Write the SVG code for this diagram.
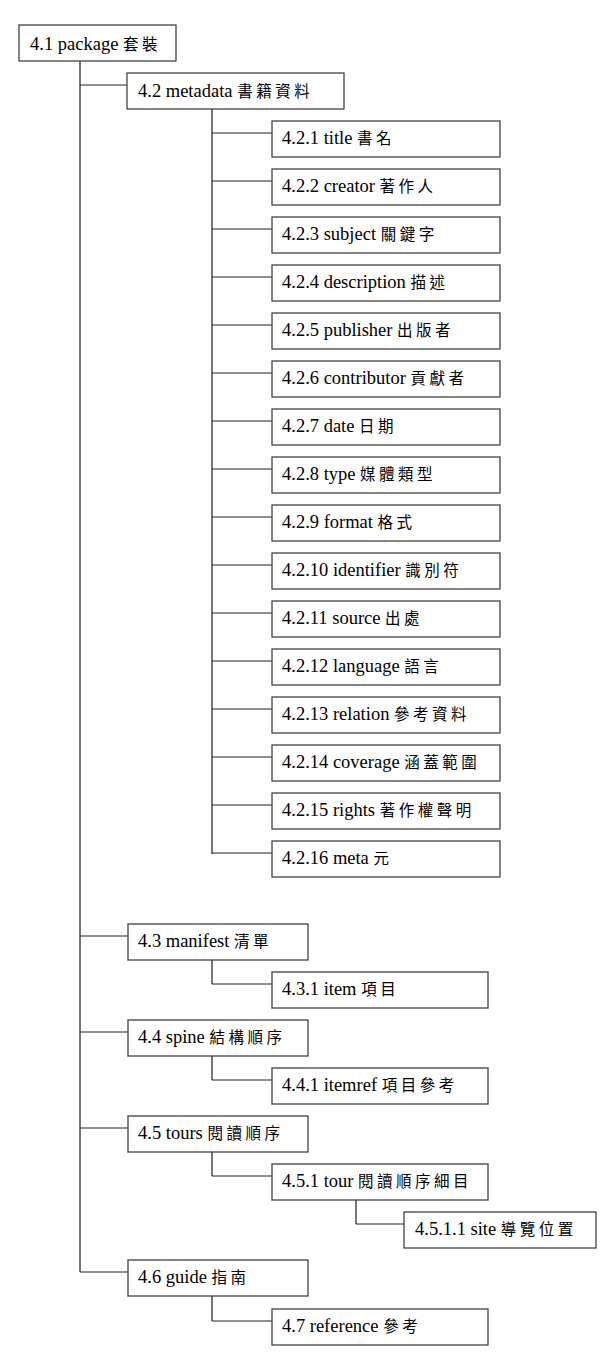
<svg xmlns="http://www.w3.org/2000/svg" width="604" height="1357" viewBox="0 0 604 1357">
<style>
.box{fill:#fff;stroke:#444;stroke-width:1.3}
text{font-family:"Liberation Serif","Times New Roman","Noto Sans CJK TC",serif;font-size:18.5px;fill:#000}
.c{font-family:"Noto Sans CJK TC","Noto Sans CJK SC",sans-serif;font-size:15.5px;letter-spacing:3.5px}
.v{stroke:#777;stroke-width:2;fill:none}
.h{stroke:#222;stroke-width:1;fill:none}
</style>
<rect width="604" height="1357" fill="#fff"/>
<g id="connectors">
<line class="v" x1="80" y1="61" x2="80" y2="1272"/>
<line class="h" x1="80" y1="85" x2="127" y2="85"/>
<line class="h" x1="80" y1="936" x2="128" y2="936"/>
<line class="h" x1="80" y1="1032" x2="128" y2="1032"/>
<line class="h" x1="80" y1="1128" x2="128" y2="1128"/>
<line class="h" x1="80" y1="1272" x2="128" y2="1272"/>
<line class="v" x1="212" y1="109" x2="212" y2="854"/>
<line class="h" x1="212" y1="133" x2="272" y2="133"/>
<line class="h" x1="212" y1="181" x2="272" y2="181"/>
<line class="h" x1="212" y1="229" x2="272" y2="229"/>
<line class="h" x1="212" y1="277" x2="272" y2="277"/>
<line class="h" x1="212" y1="325" x2="272" y2="325"/>
<line class="h" x1="212" y1="373" x2="272" y2="373"/>
<line class="h" x1="212" y1="421" x2="272" y2="421"/>
<line class="h" x1="212" y1="469" x2="272" y2="469"/>
<line class="h" x1="212" y1="517" x2="272" y2="517"/>
<line class="h" x1="212" y1="565" x2="272" y2="565"/>
<line class="h" x1="212" y1="613" x2="272" y2="613"/>
<line class="h" x1="212" y1="661" x2="272" y2="661"/>
<line class="h" x1="212" y1="709" x2="272" y2="709"/>
<line class="h" x1="212" y1="757" x2="272" y2="757"/>
<line class="h" x1="212" y1="805" x2="272" y2="805"/>
<line class="h" x1="212" y1="853" x2="272" y2="853"/>
<line class="v" x1="212" y1="960" x2="212" y2="984"/>
<line class="h" x1="212" y1="984" x2="272" y2="984"/>
<line class="v" x1="212" y1="1056" x2="212" y2="1080"/>
<line class="h" x1="212" y1="1080" x2="272" y2="1080"/>
<line class="v" x1="212" y1="1152" x2="212" y2="1176"/>
<line class="h" x1="212" y1="1176" x2="272" y2="1176"/>
<line class="v" x1="356" y1="1200" x2="356" y2="1224"/>
<line class="h" x1="356" y1="1224" x2="404" y2="1224"/>
<line class="v" x1="212" y1="1296" x2="212" y2="1321"/>
<line class="h" x1="212" y1="1321" x2="272" y2="1321"/>
</g>
<g id="n4_1"><rect class="box" x="19" y="25" width="157" height="36"/><text x="30" y="50">4.1 package <tspan class="c">套裝</tspan></text></g>
<g id="n4_2"><rect class="box" x="127" y="73" width="217" height="36"/><text x="138" y="97">4.2 metadata <tspan class="c">書籍資料</tspan></text></g>
<g id="n4_2_1"><rect class="box" x="272" y="121" width="228" height="36"/><text x="282" y="144">4.2.1 title <tspan class="c">書名</tspan></text></g>
<g id="n4_2_2"><rect class="box" x="272" y="169" width="228" height="36"/><text x="282" y="192">4.2.2 creator <tspan class="c">著作人</tspan></text></g>
<g id="n4_2_3"><rect class="box" x="272" y="217" width="228" height="36"/><text x="282" y="240">4.2.3 subject <tspan class="c">關鍵字</tspan></text></g>
<g id="n4_2_4"><rect class="box" x="272" y="265" width="228" height="36"/><text x="282" y="288">4.2.4 description <tspan class="c">描述</tspan></text></g>
<g id="n4_2_5"><rect class="box" x="272" y="313" width="228" height="36"/><text x="282" y="336">4.2.5 publisher <tspan class="c">出版者</tspan></text></g>
<g id="n4_2_6"><rect class="box" x="272" y="361" width="228" height="36"/><text x="282" y="384">4.2.6 contributor <tspan class="c">貢獻者</tspan></text></g>
<g id="n4_2_7"><rect class="box" x="272" y="409" width="228" height="36"/><text x="282" y="432">4.2.7 date <tspan class="c">日期</tspan></text></g>
<g id="n4_2_8"><rect class="box" x="272" y="457" width="228" height="36"/><text x="282" y="480">4.2.8 type <tspan class="c">媒體類型</tspan></text></g>
<g id="n4_2_9"><rect class="box" x="272" y="505" width="228" height="36"/><text x="282" y="528">4.2.9 format <tspan class="c">格式</tspan></text></g>
<g id="n4_2_10"><rect class="box" x="272" y="553" width="228" height="36"/><text x="282" y="576">4.2.10 identifier <tspan class="c">識別符</tspan></text></g>
<g id="n4_2_11"><rect class="box" x="272" y="601" width="228" height="36"/><text x="282" y="624">4.2.11 source <tspan class="c">出處</tspan></text></g>
<g id="n4_2_12"><rect class="box" x="272" y="649" width="228" height="36"/><text x="282" y="672">4.2.12 language <tspan class="c">語言</tspan></text></g>
<g id="n4_2_13"><rect class="box" x="272" y="697" width="228" height="36"/><text x="282" y="720">4.2.13 relation <tspan class="c">參考資料</tspan></text></g>
<g id="n4_2_14"><rect class="box" x="272" y="745" width="228" height="36"/><text x="282" y="768">4.2.14 coverage <tspan class="c">涵蓋範圍</tspan></text></g>
<g id="n4_2_15"><rect class="box" x="272" y="793" width="228" height="36"/><text x="282" y="816">4.2.15 rights <tspan class="c">著作權聲明</tspan></text></g>
<g id="n4_2_16"><rect class="box" x="272" y="841" width="228" height="36"/><text x="282" y="864">4.2.16 meta <tspan class="c">元</tspan></text></g>
<g id="n4_3"><rect class="box" x="128" y="924" width="180" height="36"/><text x="138" y="947">4.3 manifest <tspan class="c">清單</tspan></text></g>
<g id="n4_3_1"><rect class="box" x="272" y="972" width="216" height="36"/><text x="282" y="995">4.3.1 item <tspan class="c">項目</tspan></text></g>
<g id="n4_4"><rect class="box" x="128" y="1020" width="180" height="36"/><text x="138" y="1043">4.4 spine <tspan class="c">結構順序</tspan></text></g>
<g id="n4_4_1"><rect class="box" x="272" y="1068" width="216" height="36"/><text x="282" y="1091">4.4.1 itemref <tspan class="c">項目參考</tspan></text></g>
<g id="n4_5"><rect class="box" x="128" y="1116" width="180" height="36"/><text x="138" y="1139">4.5 tours <tspan class="c">閱讀順序</tspan></text></g>
<g id="n4_5_1"><rect class="box" x="272" y="1164" width="216" height="36"/><text x="282" y="1187">4.5.1 tour <tspan class="c">閱讀順序細目</tspan></text></g>
<g id="n4_5_1_1"><rect class="box" x="404" y="1212" width="192" height="36"/><text x="415" y="1235">4.5.1.1 site <tspan class="c">導覽位置</tspan></text></g>
<g id="n4_6"><rect class="box" x="128" y="1260" width="180" height="36"/><text x="138" y="1283">4.6 guide <tspan class="c">指南</tspan></text></g>
<g id="n4_7"><rect class="box" x="272" y="1309" width="216" height="36"/><text x="282" y="1332">4.7 reference <tspan class="c">參考</tspan></text></g>
</svg>
